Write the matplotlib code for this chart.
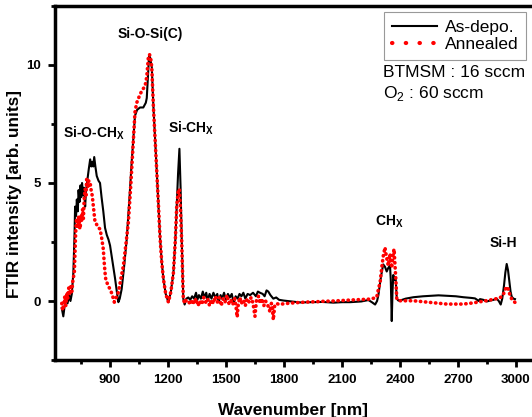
import matplotlib
matplotlib.use('Agg')
import matplotlib.pyplot as plt
import numpy as np

plt.rcParams['font.family'] = ['Liberation Sans', 'DejaVu Sans']
plt.rcParams['mathtext.fontset'] = 'custom'
plt.rcParams['mathtext.rm'] = 'Liberation Sans'
plt.rcParams['mathtext.bf'] = 'Liberation Sans:bold'

# as-deposited spectrum
x_dep = [650, 658, 665, 672, 680, 688, 695, 702, 710, 716, 719, 724, 728, 733, 737, 742, 747, 751, 755, 760,
         765, 771, 775, 779, 785, 790, 797, 803, 808, 813, 818, 824, 831, 840, 848, 856, 865, 874, 883, 892,
         900, 912, 926, 935, 943, 950, 960, 972, 986, 1000, 1012, 1021, 1029, 1040, 1055, 1072, 1085, 1090, 1096, 1102,
         1108, 1116, 1124, 1133, 1142, 1150, 1159, 1167, 1176, 1188, 1202, 1215, 1228, 1238, 1245, 1252, 1259, 1265, 1271, 1276,
         1279, 1286, 1295, 1305, 1315, 1325, 1335, 1345, 1352, 1360, 1370, 1380, 1388, 1398, 1405, 1415, 1425, 1435, 1445, 1455,
         1462, 1472, 1480, 1490, 1500, 1510, 1520, 1530, 1540, 1550, 1560, 1570, 1580, 1590, 1600, 1612, 1625, 1640, 1655, 1665,
         1676, 1690, 1700, 1710, 1719, 1730, 1745, 1760, 1775, 1797, 1820, 1850, 1883, 1950, 2000, 2056, 2100, 2142, 2200, 2237,
         2255, 2272, 2282, 2289, 2298, 2306, 2314, 2323, 2332, 2340, 2349, 2353, 2358, 2362, 2366, 2372, 2378, 2384, 2392, 2401,
         2430, 2470, 2520, 2556, 2600, 2643, 2690, 2729, 2770, 2789, 2800, 2806, 2815, 2832, 2850, 2867, 2885, 2901, 2912, 2922,
         2930, 2939, 2946, 2953, 2960, 2967, 2973, 2979, 2988, 2996]
y_dep = [-0.3, -0.65, -0.2, 0.1, -0.1, 0.25, 0.0, 0.3, 1.2, 2.8, 4.0, 3.6, 4.3, 3.8, 4.7, 4.2, 4.9, 4.4, 5.0, 4.5,
         4.8, 4.0, 4.6, 4.9, 5.3, 5.6, 6.0, 5.7, 5.9, 5.7, 6.1, 5.7, 5.3, 5.1, 5.0, 4.4, 3.8, 3.1, 2.8, 2.6,
         2.35, 1.7, 0.95, 0.4, -0.05, 0.1, 0.5, 1.4, 2.6, 4.3, 5.9, 6.9, 7.85, 8.1, 8.2, 8.2, 8.4, 8.6, 9.5, 10.4,
         10.3, 9.9, 8.3, 6.9, 5.45, 4.1, 2.65, 1.7, 0.95, 0.3, -0.05, 0.4, 1.2, 2.6, 4.0, 5.4, 6.45, 4.8, 2.6, 1.0,
         0.1, -0.15, 0.1, 0.15, 0.05, 0.2, 0.1, 0.35, 0.05, 0.25, 0.1, 0.4, 0.15, 0.35, 0.0, 0.3, 0.1, 0.35, 0.15, 0.3,
         -0.05, 0.25, 0.1, 0.35, 0.05, 0.3, 0.15, 0.3, -0.1, 0.2, 0.1, 0.3, 0.2, 0.35, 0.1, 0.3, 0.25, 0.35, 0.2, 0.4,
         0.35, 0.3, 0.2, 0.45, 0.4, 0.25, 0.1, 0.15, 0.05, 0.02, 0.0, -0.03, -0.06, -0.05, -0.04, -0.07, -0.05, -0.05, -0.02, 0.04,
         -0.05, -0.15, 0.0, 0.25, 0.8, 1.2, 1.55, 1.45, 1.25, 1.4, 1.5, 0.9, -0.85, 0.4, 1.1, 0.9, 1.0, 0.1, 0.02, 0.02,
         0.1, 0.16, 0.2, 0.22, 0.24, 0.22, 0.2, 0.16, 0.13, 0.11, 0.05, 0.0, 0.08, 0.05, -0.02, 0.02, 0.05, 0.1, 0.0, -0.15,
         0.1, 0.65, 1.2, 1.57, 1.3, 0.8, 0.4, 0.18, 0.1, 0.08]

# annealed spectrum
x_ann = [650, 655, 660, 666, 671, 676, 681, 686, 691, 696, 702, 708, 715, 719, 722, 727, 732, 736, 740, 745,
         749, 753, 758, 762, 766, 771, 775, 779, 784, 790, 797, 802, 808, 815, 822, 830, 840, 848, 856, 865,
         870, 874, 878, 883, 890, 900, 910, 922, 932, 943, 955, 969, 982, 995, 1008, 1021, 1029, 1038, 1046, 1055,
         1064, 1072, 1081, 1090, 1098, 1104, 1110, 1116, 1124, 1133, 1142, 1150, 1159, 1167, 1176, 1188, 1202, 1215, 1228, 1238,
         1245, 1252, 1259, 1265, 1271, 1276, 1279, 1286, 1295, 1305, 1315, 1325, 1335, 1345, 1355, 1365, 1375, 1385, 1395, 1405,
         1415, 1425, 1435, 1445, 1455, 1465, 1475, 1485, 1495, 1505, 1515, 1525, 1535, 1545, 1552, 1558, 1564, 1572, 1580, 1590,
         1600, 1610, 1620, 1630, 1640, 1650, 1658, 1668, 1676, 1686, 1696, 1705, 1715, 1722, 1728, 1735, 1740, 1745, 1752, 1762,
         1775, 1797, 1820, 1850, 1883, 1930, 1970, 2010, 2056, 2100, 2142, 2200, 2246, 2265, 2280, 2289, 2298, 2306, 2314, 2323,
         2330, 2340, 2345, 2349, 2354, 2358, 2363, 2370, 2375, 2380, 2384, 2392, 2401, 2470, 2556, 2643, 2729, 2780, 2815, 2860,
         2901, 2920, 2932, 2942, 2950, 2956, 2961, 2970, 2979, 2988, 2996]
y_ann = [-0.1, -0.4, -0.15, 0.2, -0.2, 0.35, 0.1, 0.55, 0.25, 0.6, 0.4, 0.9, 1.2, 2.2, 2.9, 3.5, 3.1, 3.6, 3.2, 3.05,
         3.6, 3.4, 3.9, 3.5, 4.3, 4.75, 4.4, 5.15, 4.8, 5.1, 5.0, 4.7, 4.45, 3.9, 3.35, 3.25, 3.1, 3.05, 2.7, 2.2,
         1.6, 1.2, 0.9, 0.8, 0.65, 0.5, 0.3, -0.05, 0.15, 0.37, 0.9, 1.5, 2.4, 3.35, 5.0, 6.9, 8.0, 8.4, 8.56, 8.75,
         8.9, 9.0, 9.1, 9.5, 10.3, 10.45, 10.3, 9.9, 8.3, 6.9, 5.45, 4.1, 2.65, 1.7, 0.95, 0.3, -0.05, 0.4, 1.2, 2.6,
         4.0, 4.6, 4.75, 3.8, 2.5, 1.0, 0.1, -0.1, 0.05, 0.0, -0.15, 0.05, -0.1, 0.1, -0.2, 0.0, -0.15, 0.15, -0.05, 0.1,
         -0.2, 0.05, -0.1, 0.2, -0.05, 0.15, -0.2, 0.1, -0.05, 0.25, -0.1, 0.05, -0.15, 0.1, -0.25, -0.68, -0.1, 0.15, -0.1, 0.05,
         -0.2, 0.1, -0.05, 0.15, -0.1, -0.65, 0.05, 0.2, -0.1, 0.1, -0.2, 0.0, -0.15, -0.3, -0.47, -0.1, -0.3, -0.8, -0.2, -0.1,
         -0.15, -0.12, -0.1, -0.08, -0.06, -0.04, -0.03, -0.01, 0.0, 0.02, 0.04, 0.06, 0.08, 0.12, 0.16, 0.5, 0.8, 1.4, 1.9, 2.27,
         1.9, 1.5, 1.8, 2.0, 1.6, 1.4, 1.9, 2.2, 1.5, 0.8, 0.1, 0.02, 0.01, 0.01, -0.06, -0.13, -0.13, -0.08, -0.03, 0.03,
         0.1, 0.15, 0.22, 0.4, 0.58, 0.6, 0.5, 0.25, 0.08, 0.0, -0.06]

peak_names = ['Si-O-Si(C)', 'Si-O-CH$_{\\mathbf{X}}$', 'Si-CH$_{\\mathbf{X}}$', 'CH$_{\\mathbf{X}}$', 'Si-H']
peak_x = [1107, 657, 1200, 2272, 2867]
peak_y = [11.3, 7.1, 7.3, 3.35, 2.45]
peak_ha = ['center', 'left', 'left', 'left', 'left']

fig = plt.figure(figsize=(5.32, 4.17), dpi=100)
ax = fig.add_axes([55/532, 1-360/417, 477/532, 354/417])

ax.plot(x_dep, y_dep, color='black', lw=1.5, label='As-depo.')
ax.plot(x_ann, y_ann, color='red', lw=2.6, ls=(0, (0.1, 1.3)), dash_capstyle='round')
# legend handle for the annealed curve: widely spaced dots
ax.plot([], [], color='red', lw=3, ls=(0, (0.1, 3.2)), dash_capstyle='round', label='Annealed')

for name, px, py, ha in zip(peak_names, peak_x, peak_y, peak_ha):
	ax.text(px, py, name, fontsize=10, fontweight='bold', ha=ha, va='center')

ax.text(2313, 9.7, 'BTMSM : 16 sccm', fontsize=12.5, va='center')
ax.text(2313, 8.8, 'O$_{2}$ : 60 sccm', fontsize=12.5, va='center')

ax.set_xlim(615, 3084)
ax.set_ylim(-2.5, 12.5)
ax.set_xticks(np.arange(900, 3001, 300))
ax.set_xticks(np.arange(750, 3001, 300), minor=True)
ax.set_yticks([0, 5, 10])
ax.set_yticks([-2.5, 2.5, 7.5, 12.5], minor=True)
ax.tick_params(which='major', direction='out', length=5, width=2, labelsize=9.5, pad=5)
ax.tick_params(which='minor', direction='out', length=3, width=2)
for lab in ax.get_xticklabels() + ax.get_yticklabels():
	lab.set_fontweight('bold')
for s in ['left', 'bottom', 'top']:
	ax.spines[s].set_linewidth(2.5)
ax.spines['right'].set_visible(False)
ax.tick_params(top=False, right=False)

ax.set_xlabel('Wavenumber [nm]', fontsize=12.4, fontweight='bold', labelpad=12)
ax.set_ylabel('FTIR intensity [arb. units]', fontsize=12.4, fontweight='bold')
ax.yaxis.set_label_coords(-0.069, 0.469)

leg = fig.legend(loc='upper right', bbox_to_anchor=(526/532, 1-12/417), borderaxespad=0,
	fancybox=False, edgecolor='gray', fontsize=12.5, handlelength=2.6, handletextpad=0.45,
	borderpad=0.45, labelspacing=0.1)
leg.get_frame().set_linewidth(0.8)

fig.savefig('out.png', dpi=100)
